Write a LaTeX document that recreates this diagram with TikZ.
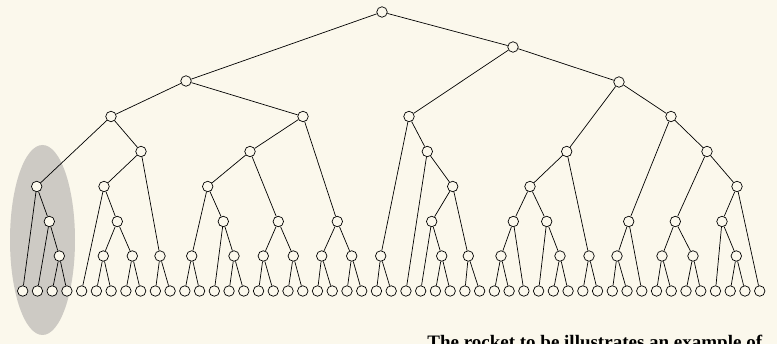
\documentclass[tikz,border=0pt]{standalone}
\usepackage{fontspec}
\setmainfont{Liberation Serif}
\definecolor{paper}{HTML}{FBF8EC}
\definecolor{haze}{HTML}{CDCAC4}
\begin{document}
\begin{tikzpicture}[x=1pt, y=-1pt, line width=0.7pt,
  knot/.style={circle, draw, fill=paper, inner sep=0pt, minimum size=10.5pt}]
% Page and the shaded branch
\clip (0,0) rectangle (777,344);
\fill[paper] (0,0) rectangle (777,344);
\fill[haze] (42.5,240) ellipse [x radius=32.5pt, y radius=95pt];

% Inner nodes (name/x/y)
\foreach \n/\x/\y in {
  n1/382/12, n2/186/81, n3/513/47,
  n4/111/116.5, n5/303/116.5, n26/409/116.5, n33/619/82, n41/671/116.5,
  n6/36.7/186.5, n7/49.3/221.5, n8/59.3/256,
  n9/141/151.5, n10/104/186.5, n11/117.3/221.5, n12/103.3/256, n13/132.3/256, n14/160/256,
  n15/250/151.5, n16/207.7/186.5, n17/191.7/256, n18/223.3/221.5, n19/234/256,
  n20/278.3/221.5, n21/263.3/256, n22/293.3/256,
  n23/337.3/221.5, n24/321.7/256, n25/351.7/256,
  n27/380.7/256, n28/427.3/151.5, n29/452.7/186.5, n30/431.7/221.5, n31/441.7/256, n32/468.3/256,
  n34/566.7/151.5, n35/530/186.5, n36/513.3/221.5, n37/501/256, n38/546.7/221.5, n39/560/256, n40/589/256,
  n42/628.7/221.5, n43/617/256, n44/707/151.5, n45/675.3/221.5, n46/662/256, n47/693/256,
  n48/737/186.5, n49/722/221.5, n50/736.3/256} {
  \node[knot] (\n) at (\x,\y) {};
}

% Leaves, all on the bottom row
\foreach \i in {0,...,50} {
  \node[knot] (l\i) at ({22.7+14.74*\i},291) {};
}

% Branches (parent/left/right)
\foreach \p/\a/\b in {
  n1/n2/n3, n2/n4/n5, n3/n26/n33,
  n4/n6/n9, n6/l0/n7, n7/l1/n8, n8/l2/l3,
  n9/n10/n14, n10/l4/n11, n11/n12/n13, n12/l5/l6, n13/l7/l8, n14/l9/l10,
  n5/n15/n23, n15/n16/n20, n16/n17/n18, n17/l11/l12, n18/l13/n19, n19/l14/l15,
  n20/n21/n22, n21/l16/l17, n22/l18/l19, n23/n24/n25, n24/l20/l21, n25/l22/l23,
  n26/n27/n28, n27/l24/l25, n28/l26/n29, n29/n30/n32, n30/l27/n31, n31/l28/l29, n32/l30/l31,
  n33/n34/n41, n34/n35/n40, n35/n36/n38, n36/n37/l34, n37/l32/l33,
  n38/l35/n39, n39/l36/l37, n40/l38/l39,
  n41/n42/n44, n42/n43/l42, n43/l40/l41, n44/n45/n48, n45/n46/n47,
  n46/l43/l44, n47/l45/l46, n48/n49/l50, n49/l47/n50, n50/l48/l49} {
  \draw (\p) -- (\a);
  \draw (\p) -- (\b);
}

% Caption, cut off by the page edge
\node[anchor=base west, inner sep=0pt, font=\bfseries\fontsize{19}{23}\selectfont]
  (cap) at (427,349) {The rocket to be illustrates an example of};
\end{tikzpicture}
\end{document}
